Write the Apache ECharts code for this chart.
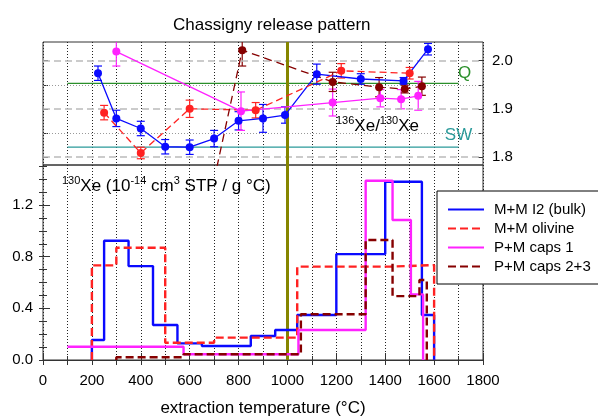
<!DOCTYPE html>
<html>
<head>
<meta charset="utf-8">
<script src="https://cdn.jsdelivr.net/npm/echarts@6/dist/echarts.min.js"></script>
<style>
	html, body { margin: 0; padding: 0; background: #fff; }
	#chart { width: 598px; height: 420px; }
</style>
</head>
<body>
<div id="chart"></div>
<script>
// axis ticks / labels
const tempLabels = [0, 200, 400, 600, 800, 1000, 1200, 1400, 1600, 1800];
const ratioTicks = [1.8, 1.85, 1.9, 1.95, 2.0];
const ratioLabels = [1.8, 1.9, 2.0];
const ratioDashed = [1.8, 1.9, 2.0];
const ratioDotted = [1.85, 1.95];
const countTicks = [0, 0.1, 0.2, 0.3, 0.4, 0.5, 0.6, 0.7, 0.8, 0.9, 1.0, 1.1, 1.2, 1.3, 1.4, 1.5];
const countLabels = [0, 0.4, 0.8, 1.2];

// legend names
const names = ['M+M I2 (bulk)', 'M+M olivine', 'P+M caps 1', 'P+M caps 2+3'];

// top panel: 136Xe/130Xe
const bulkT = [225, 300, 400, 500, 600, 700, 800, 900, 990, 1120, 1300, 1475, 1575];
const bulkRatio = [1.974, 1.880, 1.859, 1.821, 1.820, 1.838, 1.875, 1.880, 1.887, 1.972, 1.962, 1.958, 2.024];
const bulkErr = [0.015, 0.017, 0.015, 0.015, 0.015, 0.017, 0.019, 0.029, 0.017, 0.021, 0.011, 0.007, 0.012];

const olivT = [250, 400, 600, 870, 1220, 1500];
const olivRatio = [1.892, 1.808, 1.900, 1.897, 1.979, 1.974];
const olivErr = [0.015, 0.012, 0.018, 0.016, 0.015, 0.012];

const caps1T = [300, 810, 1185, 1380, 1465, 1535];
const caps1Ratio = [2.019, 1.895, 1.913, 1.922, 1.920, 1.927];
const caps1Err = [0.03, 0.04, 0.028, 0.018, 0.02, 0.03];

const caps23T = [700, 815, 1185, 1375, 1480, 1550];
const caps23Ratio = [1.752, 2.022, 1.956, 1.945, 1.941, 1.947];
const caps23Err = [0.02, 0.033, 0.02, 0.02, 0.008, 0.019];

const qRatio = 1.953;
const swRatio = 1.82;
const refRange = [100, 1700];

// bottom panel: 130Xe release (step edges + values)
const bulkEdges = [200, 250, 350, 450, 550, 650, 850, 950, 1040, 1200, 1400, 1550, 1600];
const bulkRel = [0.155, 0.923, 0.727, 0.271, 0.129, 0.108, 0.186, 0.232, 0.348, 0.820, 1.380, 0.348];

const olivEdges = [200, 300, 500, 700, 1040, 1420, 1600];
const olivRel = [0.733, 0.869, 0.134, 0.173, 0.723, 0.735];

const caps1Edges = [100, 575, 1045, 1320, 1430, 1505, 1555];
const caps1Rel = [0.103, 0.044, 0.232, 1.388, 1.084, 0.508];

const caps23Edges = [300, 575, 1055, 1320, 1430, 1540, 1570];
const caps23Rel = [0.021, 0.044, 0.354, 0.929, 0.495, 0.619];

const FONT = '"Liberation Sans", Arial, sans-serif';
const BLUE = '#0a0aff', RED = '#ff2222', MAG = '#ff22ff', DRED = '#860000';

function stepPoints(edges, vals, fromZero) {
	const pts = [];
	if (fromZero) pts.push([edges[0], 0]);
	for (let i = 0; i < vals.length; i++) {
		pts.push([edges[i], vals[i]]);
		pts.push([edges[i + 1], vals[i]]);
	}
	pts.push([edges[edges.length - 1], 0]);
	return pts;
}

function ratioLine(name, t, v, color, dash) {
	return {
		name: name, type: 'line', xAxisIndex: 0, yAxisIndex: 0,
		data: t.map((x, i) => [x, v[i]]),
		symbol: 'circle', symbolSize: 8, z: 5, clip: true,
		lineStyle: { color: color, width: 1.3, type: dash || 'solid' },
		itemStyle: { color: color }
	};
}

function errBars(t, v, e, color) {
	return {
		type: 'custom', xAxisIndex: 0, yAxisIndex: 0, clip: true, silent: true, z: 4,
		data: t.map((x, i) => [x, v[i], e[i]]),
		encode: { x: 0, y: 1 },
		renderItem: function (params, api) {
			const x = api.value(0), y = api.value(1), d = api.value(2);
			const hi = api.coord([x, y + d]);
			const lo = api.coord([x, y - d]);
			const w = 4;
			const st = { stroke: color, lineWidth: 1.2 };
			return {
				type: 'group', children: [
					{ type: 'line', shape: { x1: hi[0], y1: hi[1], x2: lo[0], y2: lo[1] }, style: st },
					{ type: 'line', shape: { x1: hi[0] - w, y1: hi[1], x2: hi[0] + w, y2: hi[1] }, style: st },
					{ type: 'line', shape: { x1: lo[0] - w, y1: lo[1], x2: lo[0] + w, y2: lo[1] }, style: st }
				]
			};
		}
	};
}

function stepLine(name, edges, vals, fromZero, color, dash) {
	return {
		name: name, type: 'line', xAxisIndex: 1, yAxisIndex: 2,
		data: stepPoints(edges, vals, fromZero),
		symbol: 'none', z: 5,
		lineStyle: { color: color, width: 2.4, type: dash || 'solid' },
		itemStyle: { color: color }
	};
}

function refLine(value, color, text, offset) {
	return {
		type: 'line', xAxisIndex: 0, yAxisIndex: 0, silent: true, z: 3,
		data: [[refRange[0], value], [refRange[1], value]],
		symbol: 'none',
		lineStyle: { color: color, width: 1.2 },
		markPoint: {
			symbol: 'circle', symbolSize: 1, silent: true,
			itemStyle: { color: 'rgba(0,0,0,0)' },
			label: { show: true, formatter: text, color: color, fontSize: 17, fontFamily: FONT, position: 'inside', offset: offset },
			data: [{ coord: [refRange[1], value] }]
		}
	};
}

const dotted = { color: '#222', type: [1, 2], width: 1 };
const tickStyle = { color: '#333', width: 1 };

let myChart = echarts.init(document.getElementById('chart'));

const option = {
	animation: false,
	title: {
		text: 'Chassigny release pattern', left: 168, top: 12,
		textStyle: { fontSize: 17, fontWeight: 'normal', color: '#000', fontFamily: FONT }
	},
	legend: {
		orient: 'vertical', left: 437, top: 191,
		data: names,
		itemWidth: 36, itemHeight: 14, itemGap: 4,
		padding: [11, 20, 10, 10],
		backgroundColor: '#fff', borderColor: '#000', borderWidth: 1,
		selectedMode: false,
		// 只显示线，不显示圆点
		itemStyle: { opacity: 0 },
		textStyle: { fontSize: 15, color: '#000', fontFamily: FONT, padding: [0, 0, 0, 5] }
	},
	grid: [
		{ left: 43, width: 440, top: 42, height: 123, show: true, borderColor: '#333', borderWidth: 1 },
		{ left: 43, width: 440, top: 165, height: 195, show: true, borderColor: '#333', borderWidth: 1 }
	],
	xAxis: [
		{
			gridIndex: 0, type: 'value', min: 0, max: 1800, interval: 100,
			axisLine: { show: false }, axisTick: { show: false }, axisLabel: { show: false },
			splitLine: { show: true, lineStyle: dotted }
		},
		{
			gridIndex: 1, type: 'value', position: 'bottom', min: 0, max: 1800, interval: 100,
			axisLine: { show: false }, axisLabel: { show: false },
			axisTick: { inside: true, length: 4, lineStyle: tickStyle },
			splitLine: { show: true, lineStyle: dotted }
		},
		{
			gridIndex: 1, type: 'value', position: 'bottom', min: 0, max: 1800, interval: 200,
			axisLine: { show: true, lineStyle: { color: '#333' } },
			axisTick: { inside: true, length: 7, lineStyle: tickStyle },
			splitLine: { show: false },
			axisLabel: {
				margin: 13, fontSize: 15, color: '#000', fontFamily: FONT,
				showMinLabel: true, showMaxLabel: true,
				customValues: tempLabels,
				formatter: function (v) { return String(v); }
			},
			name: 'extraction temperature (°C)', nameLocation: 'middle', nameGap: 40,
			nameTextStyle: { fontSize: 17, color: '#000', fontFamily: FONT }
		},
		{
			gridIndex: 1, type: 'value', position: 'top', min: 0, max: 1800, interval: 100,
			axisLine: { show: false }, axisLabel: { show: false },
			axisTick: { inside: true, length: 5, lineStyle: tickStyle },
			splitLine: { show: false }
		}
	],
	yAxis: [
		{
			gridIndex: 0, type: 'value', position: 'left', min: 1.783, max: 2.039,
			axisLine: { show: false }, splitLine: { show: false }, axisLabel: { show: false },
			axisTick: { inside: true, length: 5, lineStyle: tickStyle, customValues: ratioTicks }
		},
		{
			gridIndex: 0, type: 'value', position: 'right', min: 1.783, max: 2.039,
			axisLine: { show: false }, splitLine: { show: false },
			axisTick: { inside: true, length: 5, lineStyle: tickStyle, customValues: ratioTicks },
			axisLabel: {
				margin: 9, fontSize: 15, color: '#000', fontFamily: FONT,
				customValues: ratioLabels,
				formatter: function (v) { return v.toFixed(1); }
			}
		},
		{
			gridIndex: 1, type: 'value', position: 'left', min: 0, max: 1.51,
			axisLine: { show: false }, splitLine: { show: false },
			axisTick: { inside: true, length: 4, lineStyle: tickStyle, customValues: countTicks },
			axisLabel: {
				margin: 10, fontSize: 15, color: '#000', fontFamily: FONT,
				customValues: countLabels,
				formatter: function (v) { return v.toFixed(1); }
			}
		},
		{
			gridIndex: 1, type: 'value', position: 'left', min: 0, max: 1.51,
			axisLine: { show: false }, splitLine: { show: false }, axisLabel: { show: false },
			axisTick: { inside: true, length: 7, lineStyle: tickStyle, customValues: countLabels }
		},
		{
			gridIndex: 1, type: 'value', position: 'right', min: 0, max: 1.51,
			axisLine: { show: false }, splitLine: { show: false }, axisLabel: { show: false },
			axisTick: { inside: true, length: 4, lineStyle: tickStyle, customValues: countTicks }
		}
	],
	graphic: [
		{
			type: 'text', left: 62, top: 175, z: 10,
			style: {
				text: '{s|130}{m|Xe (10}{s|-14}{m| cm}{s|3}{m| STP / g °C)}',
				fill: '#000',
				rich: {
					m: { fontSize: 17, fontFamily: FONT, lineHeight: 20, verticalAlign: 'bottom' },
					s: { fontSize: 11, fontFamily: FONT, lineHeight: 20, verticalAlign: 'top' }
				}
			}
		},
		{
			type: 'text', left: 336, top: 115, z: 10,
			style: {
				text: '{s|136}{m|Xe/}{s|130}{m|Xe}',
				fill: '#000',
				rich: {
					m: { fontSize: 17, fontFamily: FONT, lineHeight: 20, verticalAlign: 'bottom' },
					s: { fontSize: 11, fontFamily: FONT, lineHeight: 20, verticalAlign: 'top' }
				}
			}
		}
	],
	series: [
		// grid lines + 1000 °C marker, top panel
		{
			type: 'line', xAxisIndex: 0, yAxisIndex: 0, data: [], silent: true, z: 1,
			markLine: {
				symbol: 'none', silent: true, label: { show: false },
				data: ratioDashed.map(v => ({ yAxis: v, lineStyle: { color: '#bbb', type: [7, 4], width: 1.5 } }))
					.concat(ratioDotted.map(v => ({ yAxis: v, lineStyle: { color: '#999', type: [1, 2], width: 1 } })))
					.concat([{ xAxis: 1000, lineStyle: { color: '#858500', type: 'solid', width: 3 } }])
			}
		},
		// 1000 °C marker, bottom panel
		{
			type: 'line', xAxisIndex: 1, yAxisIndex: 2, data: [], silent: true, z: 2,
			markLine: {
				symbol: 'none', silent: true, label: { show: false },
				data: [{ xAxis: 1000, lineStyle: { color: '#858500', type: 'solid', width: 3 } }]
			}
		},
		refLine(qRatio, '#2a8f2a', 'Q', [6, -10]),
		refLine(swRatio, '#2a9a9a', 'SW', [0, -12]),

		errBars(bulkT, bulkRatio, bulkErr, BLUE),
		errBars(olivT, olivRatio, olivErr, RED),
		errBars(caps1T, caps1Ratio, caps1Err, MAG),
		errBars(caps23T, caps23Ratio, caps23Err, DRED),
		ratioLine('bulk ratio', bulkT, bulkRatio, BLUE),
		ratioLine('olivine ratio', olivT, olivRatio, RED, [7, 4]),
		ratioLine('caps 1 ratio', caps1T, caps1Ratio, MAG),
		ratioLine('caps 2+3 ratio', caps23T, caps23Ratio, DRED, [8, 5]),

		stepLine(names[0], bulkEdges, bulkRel, true, BLUE),
		stepLine(names[1], olivEdges, olivRel, true, RED, [8, 4]),
		stepLine(names[2], caps1Edges, caps1Rel, false, MAG),
		stepLine(names[3], caps23Edges, caps23Rel, true, DRED, [8, 4])
	]
};

myChart.setOption(option);
</script>
</body>
</html>
